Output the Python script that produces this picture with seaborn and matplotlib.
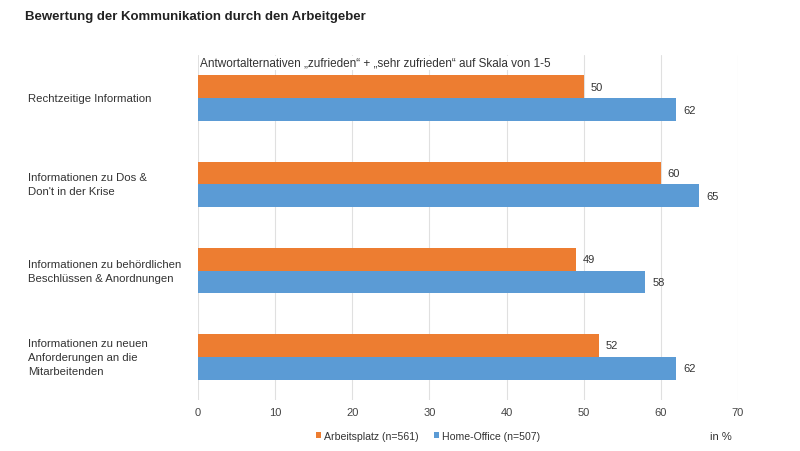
import matplotlib.pyplot as plt
import matplotlib.transforms as mtransforms
import pandas as pd
import seaborn as sns

# Daten
kategorien = [
    "Rechtzeitige Information",
    "Informationen zu Dos &\nDon't in der Krise",
    "Informationen zu behördlichen\nBeschlüssen & Anordnungen",
    "Informationen zu neuen\nAnforderungen an die\nMitarbeitenden",
]
arbeitsplatz = [50, 60, 49, 52]
home_office = [62, 65, 58, 62]
serien = ["Arbeitsplatz (n=561)", "Home-Office (n=507)"]
farben = ["#ED7D31", "#5B9BD5"]

df = pd.DataFrame({
    "Kategorie": kategorien * 2,
    "Wert": arbeitsplatz + home_office,
    "Gruppe": [serien[0]] * 4 + [serien[1]] * 4,
})

sns.set_style("white")
plt.rcParams['font.family'] = ['Liberation Sans', 'DejaVu Sans']

fig = plt.figure(figsize=(8, 4.52), dpi=100)
ax = fig.add_axes([198 / 800, 1 - 401 / 452, (738 - 198) / 800, 345 / 452])

sns.barplot(data=df, y="Kategorie", x="Wert", hue="Gruppe", palette=farben,
            orient="h", width=0.53, gap=0, saturation=1, linewidth=0,
            ax=ax, legend=True)

for cont in ax.containers:
    ax.bar_label(cont, padding=5, fontsize=8, color="#333333")

ax.set_xlim(0, 70)
ax.set_xticks(range(0, 80, 10))
ax.xaxis.grid(True, color="#e0e0e0", linewidth=0.8)
ax.set_axisbelow(True)
for s in ax.spines.values():
    s.set_visible(False)
ax.set_xlabel("")
ax.set_ylabel("")
ax.tick_params(axis="x", length=0, labelsize=8, labelcolor="#444444", pad=5)
ax.set_yticklabels([])
ax.tick_params(axis="y", length=0)

# Kategorienbeschriftung links
trans = mtransforms.blended_transform_factory(fig.transFigure, ax.transData)
for i, k in enumerate(kategorien):
    ax.text(28 / 800, i, k, transform=trans, ha="left", va="center",
            fontsize=8.2, color="#333333", linespacing=1.5)

# Legende
handles, labels = ax.get_legend_handles_labels()
ax.legend_.remove()
fig.legend(handles, labels, loc="center", bbox_to_anchor=(428 / 800, 1 - 437 / 452),
           ncol=2, frameon=False, fontsize=7.6, handlelength=0.5, handleheight=0.5,
           handletextpad=0.3, columnspacing=1.4, labelcolor="#333333")

fig.text(721 / 800, 1 - 437 / 452, "in %", ha="center", va="center", fontsize=8, color="#333333")
fig.text(25 / 800, 1 - 17 / 452, "Bewertung der Kommunikation durch den Arbeitgeber",
         fontsize=9.5, fontweight="bold", color="#222222", va="center")
fig.text(200 / 800, 1 - 64 / 452,
         "Antwortalternativen \u201ezufrieden\u201c + \u201esehr zufrieden\u201c auf Skala von 1-5",
         fontsize=8.5, color="#333333", va="center",
         bbox=dict(facecolor="white", edgecolor="none", pad=1))

fig.savefig("out.png", dpi=100, facecolor="white")
